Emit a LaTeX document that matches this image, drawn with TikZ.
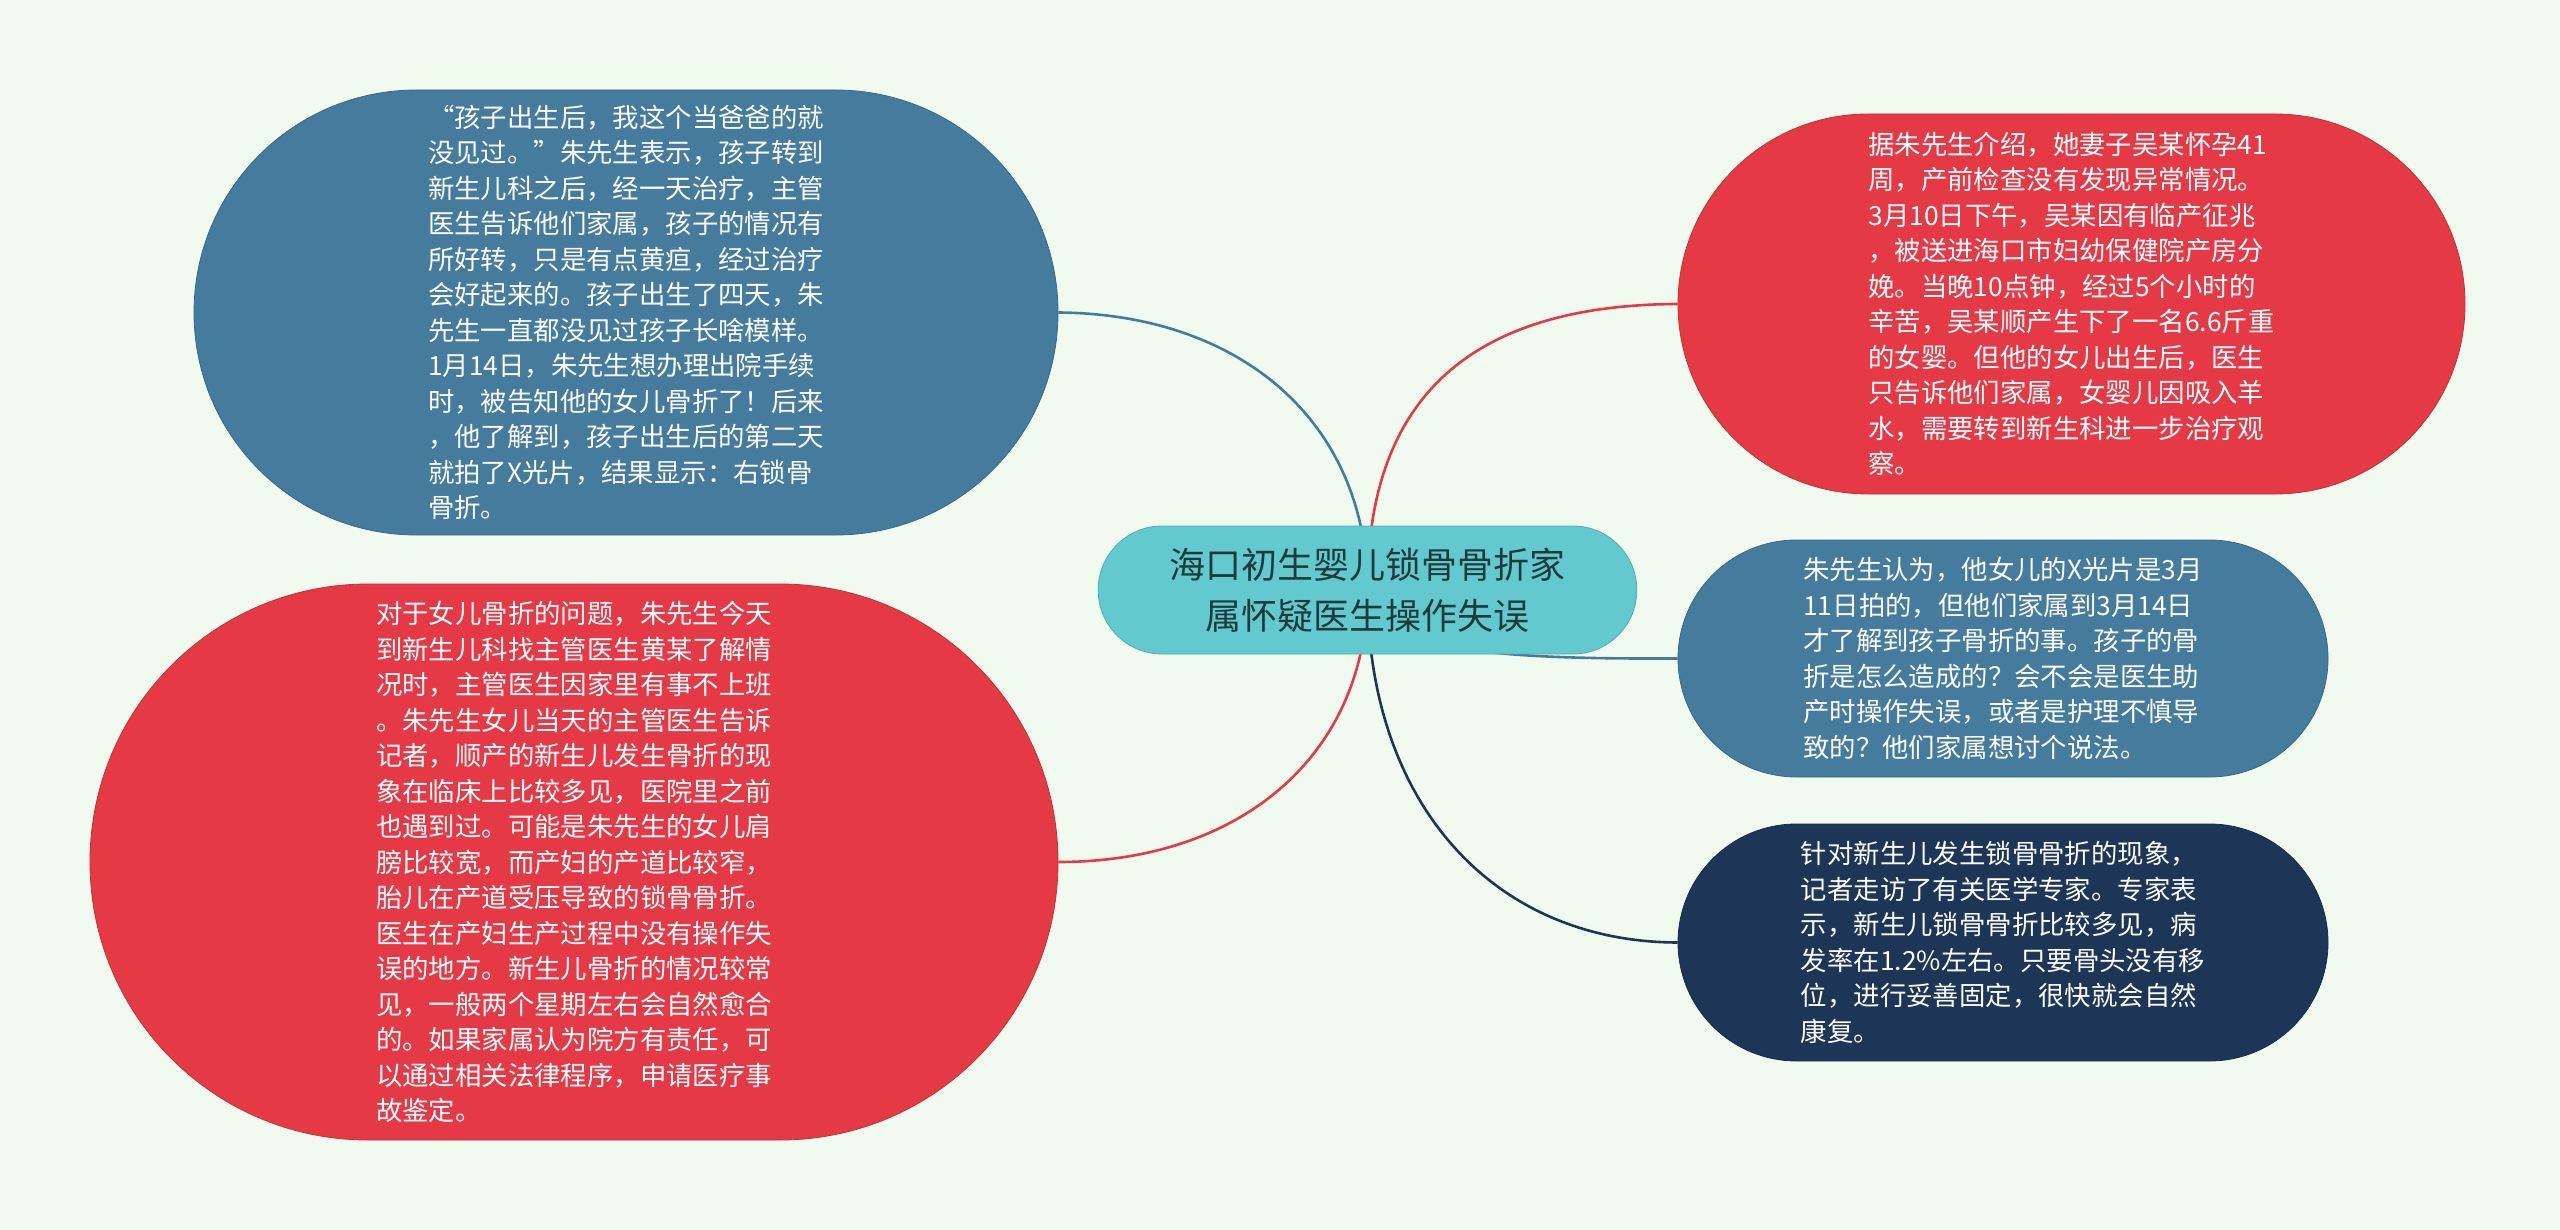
\documentclass[tikz,border=0pt]{standalone}
\usepackage{fontspec}
\setmainfont{Noto Sans CJK SC}
\usetikzlibrary{shapes.misc,backgrounds}

\definecolor{paper}{HTML}{F1FAEE}
\definecolor{brick}{HTML}{E63946}
\definecolor{steel}{HTML}{457B9D}
\definecolor{navy}{HTML}{1D3557}
\definecolor{aqua}{HTML}{62CACE}
\definecolor{ink}{HTML}{1E3A3C}

\begin{document}
\begin{tikzpicture}[x=0.5pt, y=-0.5pt,
    bubble/.style={rounded rectangle, inner sep=0pt, align=left, text=white,
      line width=0.4pt, font=\fontsize{13.2pt}{17.75pt}\selectfont},
    link/.style={line width=1.3pt}]

\useasboundingbox (0,0) rectangle (2560,1230);

% Central topic
\node[rounded rectangle, fill=aqua, draw=aqua!85!black, line width=0.4pt,
  minimum width=276pt, minimum height=64pt, align=center, text=ink,
  font=\fontsize{18pt}{25.5pt}\selectfont] (Root) at (1367.5,590)
  {海口初生婴儿锁骨骨折家\\属怀疑医生操作失误};

% Left branches
\node[bubble, fill=steel, draw=steel!85!black, minimum width=432pt, minimum height=222.5pt] (Lup) at (626,312.5)
  {“孩子出生后，我这个当爸爸的就\\
   没见过。”朱先生表示，孩子转到\\
   新生儿科之后，经一天治疗，主管\\
   医生告诉他们家属，孩子的情况有\\
   所好转，只是有点黄疸，经过治疗\\
   会好起来的。孩子出生了四天，朱\\
   先生一直都没见过孩子长啥模样。\\
   1月14日，朱先生想办理出院手续\\
   时，被告知他的女儿骨折了！后来\\
   ，他了解到，孩子出生后的第二天\\
   就拍了X光片，结果显示：右锁骨\\
   骨折。};

\node[bubble, fill=brick, draw=brick!85!black, minimum width=484pt, minimum height=278pt] (Llow) at (574,862)
  {对于女儿骨折的问题，朱先生今天\\
   到新生儿科找主管医生黄某了解情\\
   况时，主管医生因家里有事不上班\\
   。朱先生女儿当天的主管医生告诉\\
   记者，顺产的新生儿发生骨折的现\\
   象在临床上比较多见，医院里之前\\
   也遇到过。可能是朱先生的女儿肩\\
   膀比较宽，而产妇的产道比较窄，\\
   胎儿在产道受压导致的锁骨骨折。\\
   医生在产妇生产过程中没有操作失\\
   误的地方。新生儿骨折的情况较常\\
   见，一般两个星期左右会自然愈合\\
   的。如果家属认为院方有责任，可\\
   以通过相关法律程序，申请医疗事\\
   故鉴定。};

% Right branches
\node[bubble, fill=brick, draw=brick!85!black, minimum width=393.5pt, minimum height=190pt] (Rtop) at (2071.5,304)
  {据朱先生介绍，她妻子吴某怀孕41\\
   周，产前检查没有发现异常情况。\\
   3月10日下午，吴某因有临产征兆\\
   ，被送进海口市妇幼保健院产房分\\
   娩。当晚10点钟，经过5个小时的\\
   辛苦，吴某顺产生下了一名6.6斤重\\
   的女婴。但他的女儿出生后，医生\\
   只告诉他们家属，女婴儿因吸入羊\\
   水，需要转到新生科进一步治疗观\\
   察。};

\node[bubble, fill=steel, draw=steel!85!black, minimum width=325pt, minimum height=118.5pt] (Rmid) at (2003,658.5)
  {朱先生认为，他女儿的X光片是3月\\
   11日拍的，但他们家属到3月14日\\
   才了解到孩子骨折的事。孩子的骨\\
   折是怎么造成的？会不会是医生助\\
   产时操作失误，或者是护理不慎导\\
   致的？他们家属想讨个说法。};

\node[bubble, fill=navy, draw=navy!85!black, minimum width=325pt, minimum height=118.5pt] (Rbot) at (2003,942.5)
  {针对新生儿发生锁骨骨折的现象，\\
   记者走访了有关医学专家。专家表\\
   示，新生儿锁骨骨折比较多见，病\\
   发率在1.2\%左右。只要骨头没有移\\
   位，进行妥善固定，很快就会自然\\
   康复。};

% Curved links, behind the bubbles
\begin{scope}[on background layer]
\fill[paper] (0,0) rectangle (2560,1230);
\draw[link, steel] (Root.center) .. controls (1367,424) and (1243,314) .. (Lup.east);
\draw[link, brick] (Root.center) .. controls (1367,753) and (1243,862) .. (Llow.east);
\draw[link, brick] (Root.center) .. controls (1367,400) and (1468,305) .. (Rtop.west);
\draw[link, steel] (Root.center) .. controls (1367,655) and (1520,659) .. (Rmid.west);
\draw[link, navy]  (Root.center) .. controls (1367,801) and (1491,942) .. (Rbot.west);
\end{scope}

\end{tikzpicture}
\end{document}
